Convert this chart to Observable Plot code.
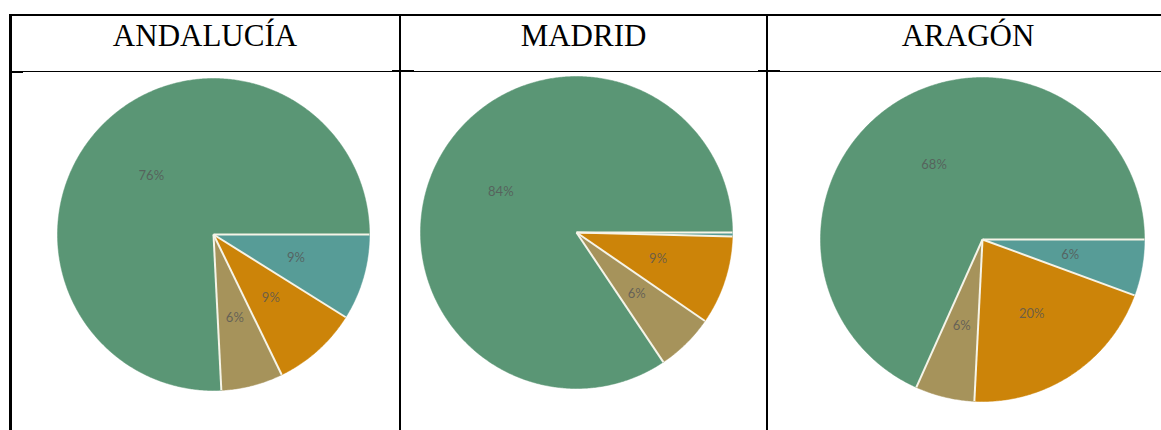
<!DOCTYPE html>
<html>
<head>
<meta charset="utf-8">
<script src="https://cdn.jsdelivr.net/npm/d3@7"></script>
<script src="https://cdn.jsdelivr.net/npm/@observablehq/plot@0.6"></script>
<style>
  html, body { margin: 0; padding: 0; background: #fff; }
  #page { position: relative; width: 1161px; height: 430px; overflow: hidden; background: #fff; }
  .hline, .vline { position: absolute; background: #000; }
  .head { position: absolute; top: 20px; font-family: "Liberation Serif", "Times New Roman", serif; font-size: 31px; line-height: 31px; color: #000; text-align: center; white-space: nowrap; }
  .pie { position: absolute; }
  .pie svg { overflow: visible; display: block; }
</style>
</head>
<body>
<div id="page"></div>
<script>
// ---- data ----
const regions = ["ANDALUCÍA", "MADRID", "ARAGÓN"];
const categories = ["Categoría 1", "Categoría 2", "Categoría 3", "Categoría 4"];
const colors = ["#579c97", "#cc8409", "#a6935b", "#5a9675"];
const andalucia = [8.9, 8.9, 6.4, 75.8];
const madrid = [0.4, 9.2, 6.0, 84.4];
const aragon = [5.6, 20.2, 5.9, 68.3];
const seriesValues = [andalucia, madrid, aragon];

// ---- layout ----
const page = document.getElementById("page");
function box(cls, l, t, w, h) {
  const d = document.createElement("div");
  d.className = cls;
  Object.assign(d.style, {left: l + "px", top: t + "px", width: w + "px", height: h + "px"});
  page.appendChild(d);
}
// table lines
box("hline", 9, 14, 1170, 2);     // top
box("vline", 9, 14, 3, 430);      // left
box("hline", 9, 71, 1170, 1);     // header separator
box("vline", 399, 14, 2, 430);    // column 1|2
box("vline", 766, 14, 2, 430);    // column 2|3
box("hline", 10, 71, 13, 2);
box("hline", 392, 70, 22, 2);
box("hline", 758, 70, 22, 2);

const cells = [[10, 400], [400, 767], [767, 1169]];
const pies = [
  {cx: 213, cy: 234, r: 156},
  {cx: 576, cy: 231.5, r: 156},
  {cx: 982, cy: 238.5, r: 162}
];

regions.forEach((name, i) => {
  const h = document.createElement("div");
  h.className = "head";
  h.textContent = name;
  h.style.left = cells[i][0] + "px";
  h.style.width = (cells[i][1] - cells[i][0]) + "px";
  page.appendChild(h);
});

function slices(values) {
  const total = d3.sum(values);
  const pts = [], labels = [], edges = [];
  let cum = 0;
  values.forEach((v, i) => {
    const a0 = cum / total * 2 * Math.PI;
    cum += v;
    const a1 = cum / total * 2 * Math.PI;
    const n = Math.max(2, Math.ceil((a1 - a0) / (Math.PI / 360)));
    pts.push({cat: categories[i], x: 0, y: 0});
    for (let k = 0; k <= n; k++) {
      const a = a0 + (a1 - a0) * k / n;
      pts.push({cat: categories[i], x: Math.cos(a), y: -Math.sin(a)});
    }
    edges.push({x1: 0, y1: 0, x2: Math.cos(a0), y2: -Math.sin(a0)});
    const am = (a0 + a1) / 2;
    if (v / total >= 0.03) {
      labels.push({cat: categories[i], x: 0.55 * Math.cos(am), y: -0.55 * Math.sin(am), text: Math.round(v / total * 100) + "%"});
    }
  });
  return {pts, labels, edges};
}

seriesValues.forEach((vals, i) => {
  const {cx, cy, r} = pies[i];
  const m = 2;
  const {pts, labels, edges} = slices(vals);
  const chart = Plot.plot({
    width: 2 * r + 2 * m,
    height: 2 * r + 2 * m,
    margin: m,
    x: {domain: [-1, 1], axis: null},
    y: {domain: [-1, 1], axis: null},
    color: {domain: categories, range: colors},
    marks: [
      Plot.line(pts, {x: "x", y: "y", z: "cat", fill: "cat", stroke: "cat", strokeWidth: 0.5, curve: "linear-closed"}),
      Plot.link(edges, {x1: "x1", y1: "y1", x2: "x2", y2: "y2", stroke: "#f6f4e8", strokeWidth: 2}),
      Plot.text(labels, {x: "x", y: "y", text: "text", fill: "#555", fillOpacity: 0.8, fontSize: 13, fontFamily: "Lato, 'Open Sans', sans-serif"})
    ]
  });
  const wrap = document.createElement("div");
  wrap.className = "pie";
  wrap.style.left = (cx - r - m) + "px";
  wrap.style.top = (cy - r - m) + "px";
  wrap.appendChild(chart);
  page.appendChild(wrap);
});
</script>
</body>
</html>
